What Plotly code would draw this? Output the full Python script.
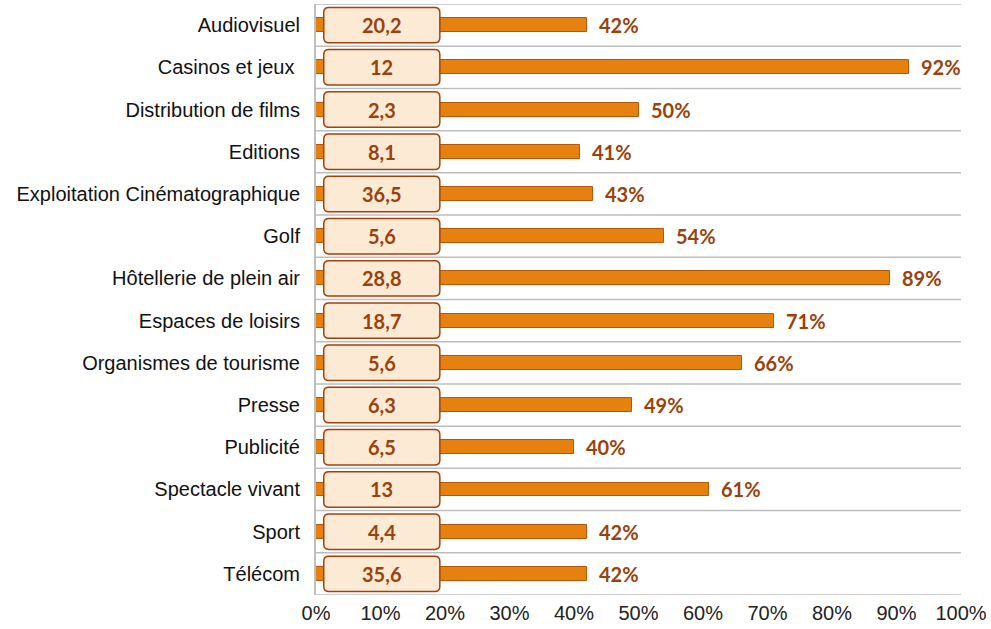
import plotly.graph_objects as go

categories = ["Audiovisuel", "Casinos et jeux ", "Distribution de films", "Editions",
              "Exploitation Cinématographique", "Golf", "Hôtellerie de plein air",
              "Espaces de loisirs", "Organismes de tourisme", "Presse", "Publicité",
              "Spectacle vivant", "Sport", "Télécom"]
pct_values = [42, 92, 50, 41, 43, 54, 89, 71, 66, 49, 40, 61, 42, 42]
box_values = [20.2, 12, 2.3, 8.1, 36.5, 5.6, 28.8, 18.7, 5.6, 6.3, 6.5, 13, 4.4, 35.6]
x_ticks = [0, 10, 20, 30, 40, 50, 60, 70, 80, 90, 100]

n = len(categories)
ypos = list(range(n))
BOLD_FONT = "Lato, Open Sans, sans-serif"
LABEL_COLOR = "#9A420B"

fig = go.Figure()
fig.add_trace(go.Bar(
    y=ypos, x=pct_values, orientation="h", width=0.33,
    marker=dict(color="#E6800F", line=dict(color="#B5580A", width=1)),
    hoverinfo="skip",
))

# rounded label boxes
x0, x1 = 1.2, 19.2
h = 0.42
rx, ry = 0.8, 0.12
shapes = []
annotations = []
for i, v in enumerate(box_values):
    y0, y1 = i - h, i + h
    path = (f"M {x0+rx},{y0} L {x1-rx},{y0} Q {x1},{y0} {x1},{y0+ry} "
            f"L {x1},{y1-ry} Q {x1},{y1} {x1-rx},{y1} L {x0+rx},{y1} "
            f"Q {x0},{y1} {x0},{y1-ry} L {x0},{y0+ry} Q {x0},{y0} {x0+rx},{y0} Z")
    shapes.append(dict(type="path", path=path, xref="x", yref="y",
                       fillcolor="#FDEAD4", line=dict(color="#A0420C", width=1.5),
                       layer="above"))
    annotations.append(dict(x=(x0 + x1) / 2, y=i, xref="x", yref="y",
                            text=str(v).replace(".", ","), showarrow=False,
                            font=dict(family=BOLD_FONT, size=20,
                                      color=LABEL_COLOR, weight="bold")))

# percentage labels at bar ends
for i, p in enumerate(pct_values):
    annotations.append(dict(x=p, y=i, xref="x", yref="y", text=f"{p}%",
                            showarrow=False, xanchor="left", xshift=10,
                            font=dict(family=BOLD_FONT, size=20,
                                      color=LABEL_COLOR, weight="bold")))

# horizontal grid lines at category boundaries
for b in range(n + 1):
    shapes.append(dict(type="line", xref="paper", yref="y", x0=0, x1=1,
                       y0=b - 0.5, y1=b - 0.5,
                       line=dict(color="#BEBEBE", width=1.5), layer="below"))

fig.update_layout(
    width=991, height=629,
    margin=dict(l=316, r=28, t=4, b=34),
    plot_bgcolor="white", paper_bgcolor="white",
    showlegend=False, bargap=0,
    shapes=shapes, annotations=annotations,
    xaxis=dict(range=[0, 100], tickvals=x_ticks,
               ticktext=[f"{t}%" for t in x_ticks], showgrid=False,
               zeroline=False, showline=False, ticks="", ticklabelstandoff=4,
               tickfont=dict(family="Liberation Sans, Arial, sans-serif", size=20, color="#222222")),
    yaxis=dict(range=[n - 0.5, -0.5], tickvals=ypos, ticktext=categories,
               showgrid=False, zeroline=False, showline=True,
               linecolor="#BEBEBE", linewidth=2, ticks="", ticklabelstandoff=10,
               tickfont=dict(family="Liberation Sans, Arial, sans-serif", size=20, color="#111111")),
)

fig.write_html("out.html", config={"displayModeBar": False},
               post_script="document.body.style.margin='0';")
